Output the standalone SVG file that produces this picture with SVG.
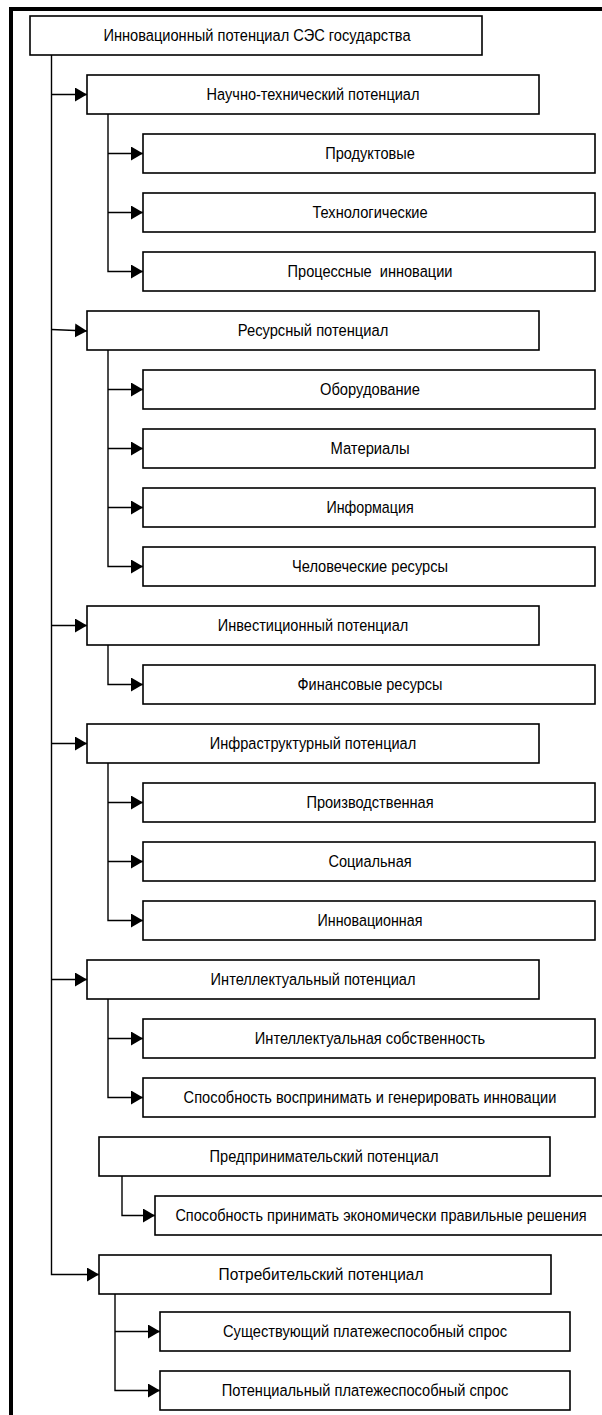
<svg xmlns="http://www.w3.org/2000/svg" width="602" height="1415" viewBox="0 0 602 1415">
<defs>
<style>
.box{fill:#fff;stroke:#000;stroke-width:1.6}
.t{font-family:"Liberation Sans",Arial,sans-serif;font-size:17px;fill:#000;text-anchor:middle}
.c{fill:none;stroke:#000;stroke-width:1.4}
.a{marker-end:url(#arr)}
</style>
<marker id="arr" markerUnits="userSpaceOnUse" markerWidth="12" markerHeight="14" refX="12" refY="7" orient="auto">
<path d="M0,0 L12,7 L0,14 Z" fill="#000"/>
</marker>
</defs>
<rect x="0" y="0" width="602" height="1415" fill="#fff"/>
<rect x="11" y="9" width="700" height="1500" fill="none" stroke="#000" stroke-width="4"/>

<g id="connectors">
<path class="c a" d="M51.5,55 V1274.5 H99"/>
<path class="c a" d="M51.5,94.5 H87"/>
<path class="c a" d="M51.5,329.5 L87,331"/>
<path class="c a" d="M51.5,625.5 H87"/>
<path class="c a" d="M51.5,743.5 H87"/>
<path class="c a" d="M51.5,979.5 H87"/>

<path class="c a" d="M108,114 V271.5 H143"/>
<path class="c a" d="M108,153.5 H143"/>
<path class="c a" d="M108,212.5 H143"/>

<path class="c a" d="M108,350 V566.5 H143"/>
<path class="c a" d="M108,389.5 H143"/>
<path class="c a" d="M108,448.5 H143"/>
<path class="c a" d="M108,507.5 H143"/>

<path class="c a" d="M108,645 V684.5 H143"/>

<path class="c a" d="M108,763 V920.5 H143"/>
<path class="c a" d="M108,802.5 H143"/>
<path class="c a" d="M108,861.5 H143"/>

<path class="c a" d="M108,999 V1097.5 H143"/>
<path class="c a" d="M108,1038.5 H143"/>

<path class="c a" d="M122,1176 V1215.5 H155"/>

<path class="c a" d="M115,1294 V1390.5 H160"/>
<path class="c a" d="M115,1331.5 H160"/>
</g>

<g id="root"><rect class="box" x="30" y="16" width="452" height="39"/><text class="t" transform="translate(257,41) scale(0.8,1)" textLength="384" lengthAdjust="spacingAndGlyphs">Инновационный потенциал СЭС государства</text></g>

<g id="n-nauchno"><rect class="box" x="87" y="75" width="452" height="39"/><text class="t" transform="translate(313,100) scale(0.8,1)" textLength="266" lengthAdjust="spacingAndGlyphs">Научно-технический потенциал</text></g>
<g id="n-produkt"><rect class="box" x="143" y="134" width="452" height="39"/><text class="t" transform="translate(370,159) scale(0.8,1)" textLength="112" lengthAdjust="spacingAndGlyphs">Продуктовые</text></g>
<g id="n-tehnolog"><rect class="box" x="143" y="193" width="452" height="39"/><text class="t" transform="translate(370,218) scale(0.8,1)" textLength="144" lengthAdjust="spacingAndGlyphs">Технологические</text></g>
<g id="n-process"><rect class="box" x="143" y="252" width="452" height="39"/><text class="t" transform="translate(370,277) scale(0.8,1)" textLength="206" lengthAdjust="spacingAndGlyphs" xml:space="preserve">Процессные  инновации</text></g>

<g id="n-resurs"><rect class="box" x="87" y="311" width="452" height="39"/><text class="t" transform="translate(313,336) scale(0.8,1)" textLength="188" lengthAdjust="spacingAndGlyphs">Ресурсный потенциал</text></g>
<g id="n-oborud"><rect class="box" x="143" y="370" width="452" height="39"/><text class="t" transform="translate(370,395) scale(0.8,1)" textLength="125" lengthAdjust="spacingAndGlyphs">Оборудование</text></g>
<g id="n-materialy"><rect class="box" x="143" y="429" width="452" height="39"/><text class="t" transform="translate(370,454) scale(0.8,1)" textLength="99" lengthAdjust="spacingAndGlyphs">Материалы</text></g>
<g id="n-inform"><rect class="box" x="143" y="488" width="452" height="39"/><text class="t" transform="translate(370,513) scale(0.8,1)" textLength="109" lengthAdjust="spacingAndGlyphs">Информация</text></g>
<g id="n-chelovek"><rect class="box" x="143" y="547" width="452" height="39"/><text class="t" transform="translate(370,572) scale(0.8,1)" textLength="195" lengthAdjust="spacingAndGlyphs">Человеческие ресурсы</text></g>

<g id="n-invest"><rect class="box" x="87" y="606" width="452" height="39"/><text class="t" transform="translate(313,631) scale(0.8,1)" textLength="238" lengthAdjust="spacingAndGlyphs">Инвестиционный потенциал</text></g>
<g id="n-finans"><rect class="box" x="143" y="665" width="452" height="39"/><text class="t" transform="translate(370,690) scale(0.8,1)" textLength="181" lengthAdjust="spacingAndGlyphs">Финансовые ресурсы</text></g>

<g id="n-infra"><rect class="box" x="87" y="724" width="452" height="39"/><text class="t" transform="translate(313,749) scale(0.8,1)" textLength="258" lengthAdjust="spacingAndGlyphs">Инфраструктурный потенциал</text></g>
<g id="n-proizv"><rect class="box" x="143" y="783" width="452" height="39"/><text class="t" transform="translate(370,808) scale(0.8,1)" textLength="159" lengthAdjust="spacingAndGlyphs">Производственная</text></g>
<g id="n-social"><rect class="box" x="143" y="842" width="452" height="39"/><text class="t" transform="translate(370,867) scale(0.8,1)" textLength="104" lengthAdjust="spacingAndGlyphs">Социальная</text></g>
<g id="n-innovac"><rect class="box" x="143" y="901" width="452" height="39"/><text class="t" transform="translate(370,926) scale(0.8,1)" textLength="131" lengthAdjust="spacingAndGlyphs">Инновационная</text></g>

<g id="n-intellekt"><rect class="box" x="87" y="960" width="452" height="39"/><text class="t" transform="translate(313,985) scale(0.8,1)" textLength="256" lengthAdjust="spacingAndGlyphs">Интеллектуальный потенциал</text></g>
<g id="n-sobstv"><rect class="box" x="143" y="1019" width="452" height="39"/><text class="t" transform="translate(370,1044) scale(0.8,1)" textLength="288" lengthAdjust="spacingAndGlyphs">Интеллектуальная собственность</text></g>
<g id="n-vospr"><rect class="box" x="143" y="1078" width="452" height="39"/><text class="t" transform="translate(370,1103) scale(0.8,1)" textLength="466" lengthAdjust="spacingAndGlyphs">Способность воспринимать и генерировать инновации</text></g>

<g id="n-predpr"><rect class="box" x="99" y="1137" width="451" height="39"/><text class="t" transform="translate(324,1162) scale(0.8,1)" textLength="286" lengthAdjust="spacingAndGlyphs">Предпринимательский потенциал</text></g>
<g id="n-resh"><rect class="box" x="155" y="1196" width="452" height="39"/><text class="t" transform="translate(381,1221) scale(0.8,1)" textLength="514" lengthAdjust="spacingAndGlyphs">Способность принимать экономически правильные решения</text></g>

<g id="n-potreb"><rect class="box" x="99" y="1255" width="452" height="39"/><text class="t" transform="translate(321,1280) scale(0.8,1)" textLength="256" lengthAdjust="spacingAndGlyphs">Потребительский потенциал</text></g>
<g id="n-sushch"><rect class="box" x="160" y="1312" width="410" height="39"/><text class="t" transform="translate(365,1337) scale(0.8,1)" textLength="355" lengthAdjust="spacingAndGlyphs">Существующий платежеспособный спрос</text></g>
<g id="n-potenc"><rect class="box" x="160" y="1371" width="410" height="39"/><text class="t" transform="translate(365,1396) scale(0.8,1)" textLength="358" lengthAdjust="spacingAndGlyphs">Потенциальный платежеспособный спрос</text></g>
</svg>
